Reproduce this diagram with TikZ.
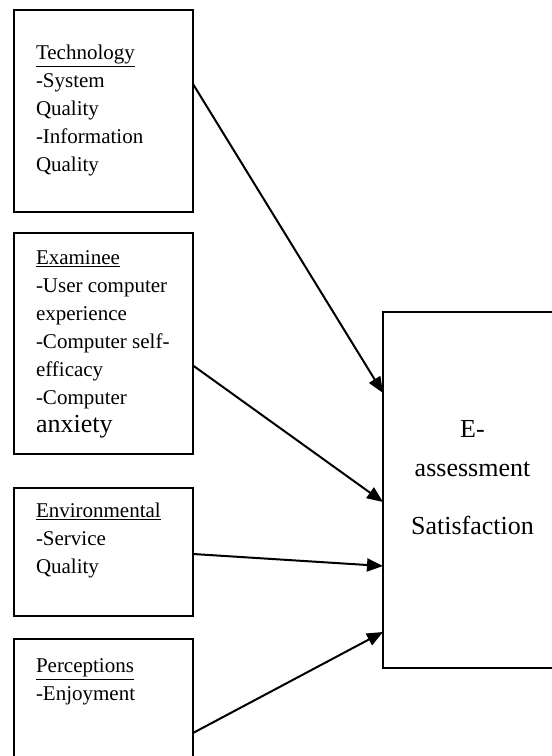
\documentclass[tikz,border=0pt]{standalone}
\usepackage{fontspec}
\setmainfont{Liberation Serif}
\usetikzlibrary{arrows.meta,positioning}

\tikzset{
  box/.style={draw, line width=2pt, minimum width=179pt, outer sep=0pt, inner sep=0pt},
  boxtext/.style={anchor=base west, align=left, inner sep=0pt, font=\fontsize{21}{28}\selectfont},
  bigtext/.style={anchor=base, align=center, inner sep=0pt, font=\fontsize{26}{30}\selectfont},
}

\begin{document}
\begin{tikzpicture}[x=1pt, y=1pt, -{Triangle[length=16pt,width=13pt]}, line width=2pt]
	\clip (0,0) rectangle (552,756);
	% factor boxes on the left
	\node[box, minimum height=202pt, anchor=north west] (TECH) at (14,746) {};
	\node[box, minimum height=221pt] (EXAM) [below=21pt of TECH] {};
	\node[box, minimum height=128pt] (ENV)  [below=34pt of EXAM] {};
	\node[box, minimum height=128pt] (PERC) [below=23pt of ENV]  {};
	% outcome box on the right
	\node[box, minimum height=356pt, anchor=north west] (SAT) at (383,444) {};

	% texts (base = last line)
	\node[boxtext] (TECHtxt) at ([shift={(21pt,-162pt)}]TECH.north west)
		{\underline{Technology}\\-System\\Quality\\-Information\\Quality};
	\node[boxtext] (EXAMtxt) at ([shift={(21pt,-200pt)}]EXAM.north west)
		{\underline{Examinee}\\-User computer\\experience\\-Computer self-\\efficacy\\-Computer\\{\fontsize{26}{28}\selectfont anxiety}};
	\node[boxtext] (ENVtxt) at ([shift={(21pt,-86pt)}]ENV.north west)
		{\underline{Environmental}\\-Service\\Quality};
	\node[boxtext] (PERCtxt) at ([shift={(21pt,-62pt)}]PERC.north west)
		{\underline{Perceptions}\\-Enjoyment};
	\node[bigtext] (SATtxt) at (472.5,221)
		{E-\\[9pt]assessment\\[28pt]Satisfaction};

	\path	([yshift=27pt]TECH.east)	edge	([yshift=97pt]SAT.west)
			([yshift=-22pt]EXAM.east)	edge	([yshift=-12pt]SAT.west)
			([yshift=-2pt]ENV.east)		edge	([yshift=-76pt]SAT.west)
			([yshift=-30pt]PERC.east)	edge	([yshift=-142pt]SAT.west);
\end{tikzpicture}
\end{document}
